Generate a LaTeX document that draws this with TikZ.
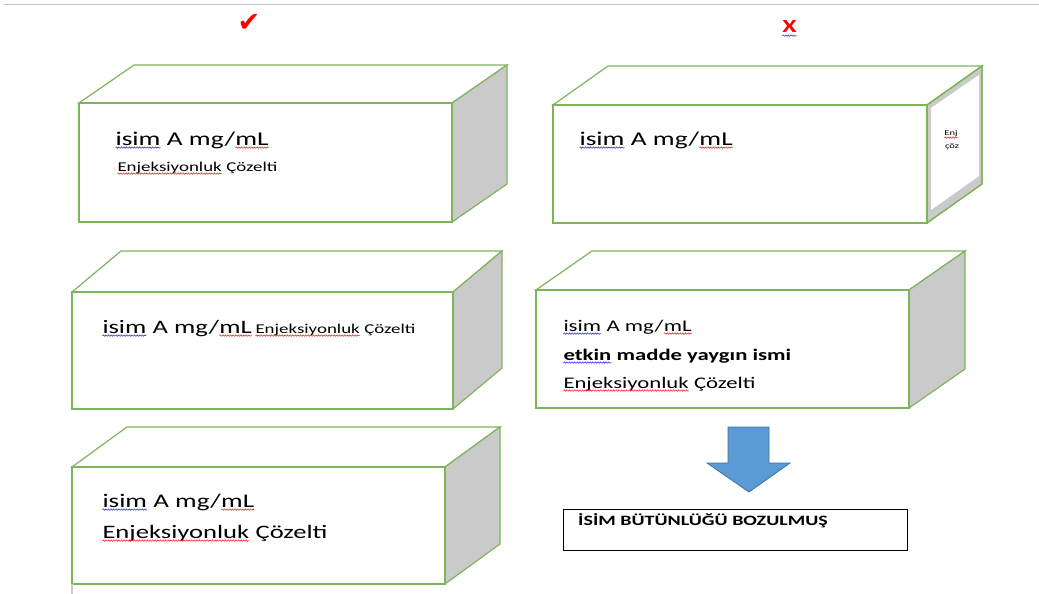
\documentclass[tikz,border=0pt]{standalone}
\usepackage{fontspec}
\setmainfont{Carlito}[FakeStretch=1.4]
\newfontfamily\symfont{DejaVu Sans}
\usetikzlibrary{calc,decorations.pathmorphing}
\definecolor{boxgreen}{HTML}{7DB55A}
\definecolor{sidegrey}{HTML}{CACACA}
\definecolor{arrowblue}{HTML}{5B9BD5}
\definecolor{arrowedge}{HTML}{41719C}
\definecolor{squigblue}{HTML}{3A3AF0}
\definecolor{squigred}{HTML}{F03030}
\newcommand\fs[1]{\fontsize{#1}{#1}\selectfont}
\newcommand\sqz[2]{\tikz[baseline=(w.base)]{\node[inner sep=0pt,outer sep=0pt](w){#2};\draw[#1,line width=0.6pt,decorate,decoration={snake,amplitude=0.7pt,segment length=2.6pt}] ([yshift=-2.6pt]w.base west) -- ([yshift=-2.6pt]w.base east);}}
\tikzset{
  boxline/.style={draw=boxgreen,line width=1.2pt,line join=miter},
  lbl/.style={anchor=base west,inner sep=0pt,text=black},
}
\newcommand\cuboid[7]{%
  \coordinate (#1-a) at (#2,#3);
  \coordinate (#1-b) at (#4,#3);
  \coordinate (#1-c) at (#4,#5);
  \coordinate (#1-d) at (#2,#5);
  \filldraw[boxline,fill=white] (#1-a) -- ($(#1-a)+(#6,#7)$) -- ($(#1-b)+(#6,#7)$) -- (#1-b) -- cycle;
  \filldraw[boxline,fill=sidegrey] (#1-b) -- ($(#1-b)+(#6,#7)$) -- ($(#1-c)+(#6,#7)$) -- (#1-c) -- cycle;
  \filldraw[boxline,fill=white] (#1-a) rectangle (#1-c);
}
\begin{document}
\begin{tikzpicture}[x=1pt,y=-1pt]
\useasboundingbox (0,0) rectangle (1039,594);
\fill[white] (0,0) rectangle (1039,594);
\draw[gray!45,line width=1pt] (3,5) -- (1039,5);
% marks
\node[text=red,font=\symfont\fontsize{27}{27}\selectfont,inner sep=0pt] (ok) at (249,23) {✔};
\node[anchor=base,inner sep=0pt,font=\fs{18.5}\bfseries] (no) at (789.5,33) {\sqz{squigblue}{\color{red}X}};
% box 1
\cuboid{b1}{79}{103}{452}{222}{55}{-38}
\node[lbl,font=\fs{19.5}] (b1t1) at (115,145) {\sqz{squigblue}{isim} A mg/\sqz{squigred}{mL}};
\node[lbl,font=\fs{13.5}] (b1t2) at (117,171) {\sqz{squigred}{Enjeksiyonluk} Çözelti};
% box 2
\cuboid{b2}{553}{105}{927}{223}{55}{-39}
\fill[white] (931,108) -- (979,75) -- (979,176) -- (931,210) -- cycle;
\draw[boxline] (b2-b) -- ($(b2-b)+(55,-39)$) -- ($(b2-c)+(55,-39)$) -- (b2-c);
\node[lbl,font=\fs{19.5}] (b2t1) at (579,145) {\sqz{squigblue}{isim} A mg/\sqz{squigred}{mL}};
\node[anchor=base,inner sep=0pt,font=\fs{7.5}] (b2t2) at (951,135) {\sqz{squigred}{Enj}};
\node[anchor=base,inner sep=0pt,font=\fs{7.5}] (b2t3) at (952,148) {çöz};
% box 3
\cuboid{b3}{72}{292}{453}{409}{49}{-41}
\node[lbl,font=\fs{19}] (b3t1) at (102,333) {\sqz{squigblue}{isim} A mg/\sqz{squigred}{mL}};
\node[lbl,font=\fs{13.5}] (b3t2) at (255,333) {\sqz{squigred}{Enjeksiyonluk} Çözelti};
% box 4
\cuboid{b4}{536}{290}{909}{408}{56}{-39}
\node[lbl,font=\fs{16.3}] (b4t1) at (563,331) {\sqz{squigblue}{isim} A mg/\sqz{squigred}{mL}};
\node[lbl,font=\fs{16.2}\bfseries] (b4t2) at (563,360) {\sqz{squigblue}{etkin} madde yaygın ismi};
\node[lbl,font=\fs{16.2}] (b4t3) at (563,388) {\sqz{squigred}{Enjeksiyonluk} Çözelti};
% box 5
\cuboid{b5}{72}{467}{445}{584}{55}{-40}
\draw[gray!40,line width=1.5pt] (b5-d) -- ++(0,10);
\node[lbl,font=\fs{19.3}] (b5t1) at (102,507) {\sqz{squigblue}{isim} A mg/\sqz{squigred}{mL}};
\node[lbl,font=\fs{19}] (b5t2) at (102,538) {\sqz{squigred}{Enjeksiyonluk} Çözelti};
% arrow
\filldraw[fill=arrowblue,draw=arrowedge,line width=0.8pt] (728,427) -- (769,427) -- (769,463) -- (790,463) -- (749,492) -- (707,463) -- (728,463) -- cycle;
% result box
\node[draw=black,line width=1pt,anchor=north west,minimum width=344pt,minimum height=41pt,inner sep=0pt] (res) at (563,509) {};
\node[lbl,font=\fs{14.3}\bfseries] (rest) at (578,525) {İSİM BÜTÜNLÜĞÜ BOZULMUŞ};
\end{tikzpicture}
\end{document}
